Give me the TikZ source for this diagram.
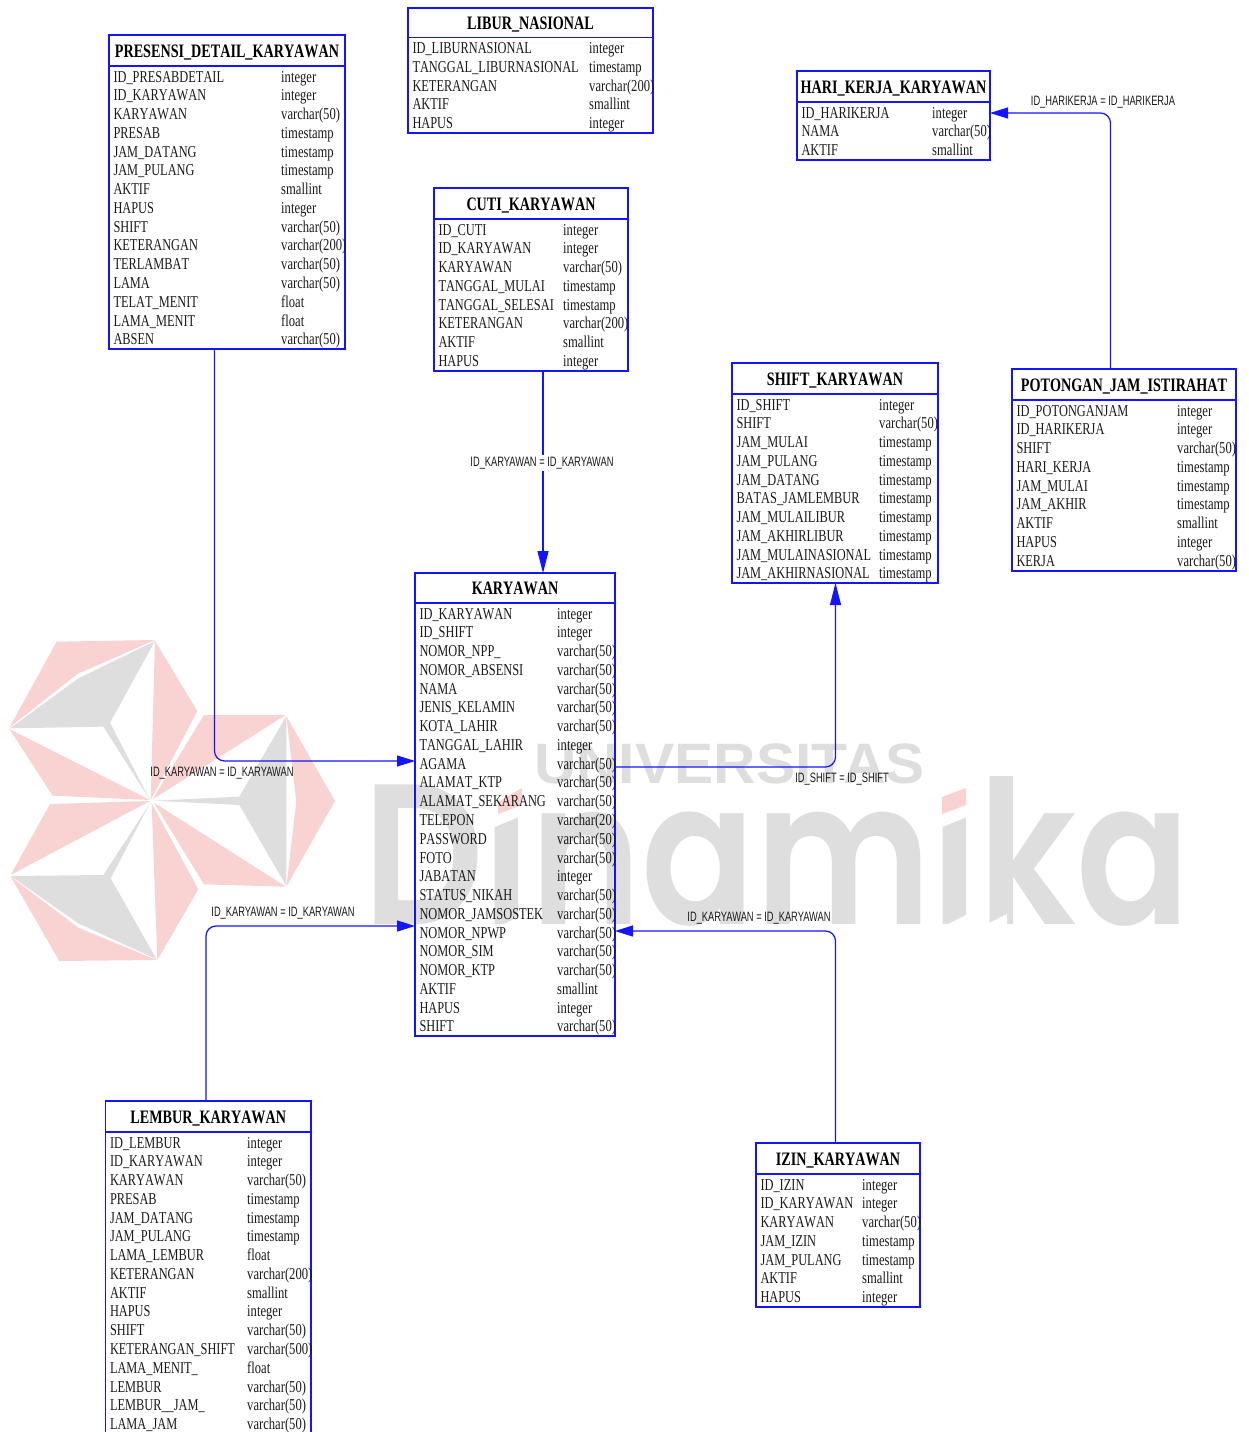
\documentclass[tikz,border=0pt]{standalone}
\usepackage{fontspec}
\usetikzlibrary{arrows.meta}
\setmainfont{Liberation Serif}
\newfontfamily\rowf[FakeStretch=0.745,Kerning=Off]{Liberation Serif}
\newfontfamily\typef[FakeStretch=0.76,Kerning=Off]{Liberation Serif}
\newfontfamily\relf[FakeStretch=0.685]{Liberation Sans}
\newfontfamily\wmbig[FakeStretch=0.84]{Poppins SemiBold}
\newfontfamily\wmsmall[FakeStretch=1.03]{Liberation Sans}
\definecolor{erblue}{HTML}{1414FF}
\definecolor{wmgray}{HTML}{DEDEDE}
\definecolor{wmpink}{HTML}{F9D2D2}
\definecolor{ertext}{HTML}{1A1A1A}
\catcode`\_=12
\tikzset{
  erbox/.style={draw=erblue,line width=1.25pt,inner sep=0pt,outer sep=0pt,anchor=north west},
  ertitle/.style={anchor=base,inner sep=0pt,text=black,font=\rowf\bfseries\fontsize{19}{22}\selectfont},
  errow/.style={anchor=base west,inner sep=0pt,text=ertext,font=\rowf\fontsize{16.6}{20}\selectfont},
  ertype/.style={anchor=base west,inner sep=0pt,text=ertext,font=\typef\fontsize{16.6}{20}\selectfont},
  relline/.style={draw=erblue,line width=1.25pt,rounded corners=10pt},
  reltip/.style={-{Triangle[length=18pt,width=11pt]}},
  reltipv/.style={-{Triangle[length=22pt,width=11pt]}},
  rellabel/.style={inner sep=1.5pt,text=ertext,font=\relf\fontsize{13.6}{16}\selectfont},
}
% name, x1, y1, x2, y2, header y, title, second column x, rows
\newcommand{\ertable}[9]{%
  \node[erbox,minimum width={(#4-#2)*1pt},minimum height={(#5-#3)*1pt}] (#1) at (#2,#3) {};
  \draw[draw=erblue,line width=1.25pt] (#2,#6) -- ({#4+1},#6);
  \node[ertitle] (#1-title) at ({(#2+#4)/2},{(#3+#6)/2+6.5}) {#7};
  \foreach \rowname/\rowtype [count=\rowi from 0] in {#9}{
    \node[errow] (#1-n\rowi) at ({#2+4.3},{#6+16+\rowi*18.77}) {\rowname};
    \node[ertype] (#1-t\rowi) at (#8,{#6+16+\rowi*18.77}) {\rowtype};
  }%
}
\begin{document}
\begin{tikzpicture}[x=1pt,y=-1pt]
\useasboundingbox (0,0) rectangle (1248,1432);
\clip (0,0) rectangle (1248,1432);
% watermark logo
\begin{scope}[shift={(0,630)},x=0.33333pt,y=-0.33333pt]
  \fill[wmpink] (170,35) -- (465,30) -- (232,132) -- (28,293) -- cycle;
  \fill[wmgray] (465,33) -- (330,278) -- (450,510) -- (310,290) -- (30,295) -- (235,145) -- cycle;
  \fill[wmpink] (28,297) -- (450,510) -- (158,497) -- cycle;
  \fill[wmpink] (465,33) -- (592,243) -- (452,510) -- cycle;
  \fill[wmpink] (612,255) -- (857,255) -- (458,508) -- cycle;
  \fill[wmgray] (859,258) -- (718,500) -- (462,512) -- (718,525) -- (859,768) -- cycle;
  \fill[wmpink] (859,258) -- (1005,513) -- (859,770) -- (889,515) -- cycle;
  \fill[wmpink] (462,518) -- (858,770) -- (612,763) -- cycle;
  \fill[wmpink] (150,522) -- (450,513) -- (32,735) -- cycle;
  \fill[wmgray] (450,520) -- (310,735) -- (32,738) -- (235,880) -- (470,988) -- (332,745) -- cycle;
  \fill[wmpink] (32,740) -- (235,893) -- (470,990) -- (178,993) -- cycle;
  \fill[wmpink] (455,520) -- (595,778) -- (472,990) -- cycle;
\end{scope}
% watermark text
\node[anchor=base west,inner sep=0pt,text=wmgray,font=\wmsmall\bfseries\fontsize{57}{60}\selectfont] (wmuni) at (534,783) {UNIVERSITAS};
\node[anchor=base west,inner sep=0pt,text=wmgray,font=\wmbig\fontsize{200}{200}\selectfont] (wmdin) at (363,924) {Dinamika};
% slanted cuts and the square dots of the i letters
\fill[white] (492,760) -- (531,760) -- (531,812) -- (492,828) -- cycle;
\fill[white] (930,760) -- (978,760) -- (978,812.6) -- (930,831.8) -- cycle;
\fill[white] (979,766) -- (1008,766) -- (979,781) -- cycle;
\fill[wmpink] (498,802) -- (522,788) -- (522,805) -- (498,814) -- cycle;
\fill[wmpink] (942,797) -- (966,788) -- (966,805) -- (942,814) -- cycle;
\foreach \sx in {498,942,981}{
  \fill[white] (\sx,927) -- ({\sx+26},914) -- ({\sx+26},927) -- cycle;
}
% tables
\ertable{presensi}{109}{35}{345}{349}{66}{PRESENSI_DETAIL_KARYAWAN}{281}{ID_PRESABDETAIL/integer,ID_KARYAWAN/integer,KARYAWAN/varchar(50),PRESAB/timestamp,JAM_DATANG/timestamp,JAM_PULANG/timestamp,AKTIF/smallint,HAPUS/integer,SHIFT/varchar(50),KETERANGAN/varchar(200),TERLAMBAT/varchar(50),LAMA/varchar(50),TELAT_MENIT/float,LAMA_MENIT/float,ABSEN/varchar(50)}
\ertable{libur}{408}{8}{653}{133}{37.5}{LIBUR_NASIONAL}{589}{ID_LIBURNASIONAL/integer,TANGGAL_LIBURNASIONAL/timestamp,KETERANGAN/varchar(200),AKTIF/smallint,HAPUS/integer}
\ertable{cuti}{434}{188}{628}{371}{219}{CUTI_KARYAWAN}{563}{ID_CUTI/integer,ID_KARYAWAN/integer,KARYAWAN/varchar(50),TANGGAL_MULAI/timestamp,TANGGAL_SELESAI/timestamp,KETERANGAN/varchar(200),AKTIF/smallint,HAPUS/integer}
\ertable{hari}{797}{71}{990}{160}{102}{HARI_KERJA_KARYAWAN}{932}{ID_HARIKERJA/integer,NAMA/varchar(50),AKTIF/smallint}
\ertable{shift}{732}{363}{938}{583}{394}{SHIFT_KARYAWAN}{879}{ID_SHIFT/integer,SHIFT/varchar(50),JAM_MULAI/timestamp,JAM_PULANG/timestamp,JAM_DATANG/timestamp,BATAS_JAMLEMBUR/timestamp,JAM_MULAILIBUR/timestamp,JAM_AKHIRLIBUR/timestamp,JAM_MULAINASIONAL/timestamp,JAM_AKHIRNASIONAL/timestamp}
\ertable{potongan}{1012}{369}{1236}{571}{400}{POTONGAN_JAM_ISTIRAHAT}{1177}{ID_POTONGANJAM/integer,ID_HARIKERJA/integer,SHIFT/varchar(50),HARI_KERJA/timestamp,JAM_MULAI/timestamp,JAM_AKHIR/timestamp,AKTIF/smallint,HAPUS/integer,KERJA/varchar(50)}
\ertable{kar}{415}{573}{615}{1036}{603}{KARYAWAN}{557}{ID_KARYAWAN/integer,ID_SHIFT/integer,NOMOR_NPP_/varchar(50),NOMOR_ABSENSI/varchar(50),NAMA/varchar(50),JENIS_KELAMIN/varchar(50),KOTA_LAHIR/varchar(50),TANGGAL_LAHIR/integer,AGAMA/varchar(50),ALAMAT_KTP/varchar(50),ALAMAT_SEKARANG/varchar(50),TELEPON/varchar(20),PASSWORD/varchar(50),FOTO/varchar(50),JABATAN/integer,STATUS_NIKAH/varchar(50),NOMOR_JAMSOSTEK/varchar(50),NOMOR_NPWP/varchar(50),NOMOR_SIM/varchar(50),NOMOR_KTP/varchar(50),AKTIF/smallint,HAPUS/integer,SHIFT/varchar(50)}
\ertable{lembur}{105.5}{1101}{311}{1450}{1132}{LEMBUR_KARYAWAN}{247}{ID_LEMBUR/integer,ID_KARYAWAN/integer,KARYAWAN/varchar(50),PRESAB/timestamp,JAM_DATANG/timestamp,JAM_PULANG/timestamp,LAMA_LEMBUR/float,KETERANGAN/varchar(200),AKTIF/smallint,HAPUS/integer,SHIFT/varchar(50),KETERANGAN_SHIFT/varchar(500),LAMA_MENIT_/float,LEMBUR/varchar(50),LEMBUR__JAM_/varchar(50),LAMA_JAM/varchar(50)}
\ertable{izin}{756}{1143}{920}{1307}{1174}{IZIN_KARYAWAN}{862}{ID_IZIN/integer,ID_KARYAWAN/integer,KARYAWAN/varchar(50),JAM_IZIN/timestamp,JAM_PULANG/timestamp,AKTIF/smallint,HAPUS/integer}
% connectors
\draw[relline,reltip] ([xshift=-12.5pt]presensi.south) |- ([yshift=43.5pt]kar.west);
\draw[relline,reltipv] ([xshift=12pt]cuti.south) -- ([xshift=28pt]kar.north);
\draw[relline,reltip] ([xshift=-2.25pt]lembur.north) |- ([yshift=-121.5pt]kar.west);
\draw[relline,reltip] ([xshift=-2.5pt]izin.north) |- ([yshift=-126.5pt]kar.east);
\draw[relline,reltipv] ([yshift=37.5pt]kar.east) -| ([xshift=0.5pt]shift.south);
\draw[relline,reltip] ([xshift=-13.5pt]potongan.north) |- ([yshift=2.5pt]hari.east);
% connector labels
\node[rellabel] (lab1) at (222,773) {ID_KARYAWAN = ID_KARYAWAN};
\node[rellabel,fill=white] (lab2) at (542,463) {ID_KARYAWAN = ID_KARYAWAN};
\node[rellabel] (lab3) at (283,913) {ID_KARYAWAN = ID_KARYAWAN};
\node[rellabel] (lab4) at (759,918) {ID_KARYAWAN = ID_KARYAWAN};
\node[rellabel] (lab5) at (842,779) {ID_SHIFT = ID_SHIFT};
\node[rellabel] (lab6) at (1103,102) {ID_HARIKERJA = ID_HARIKERJA};
\end{tikzpicture}
\end{document}
